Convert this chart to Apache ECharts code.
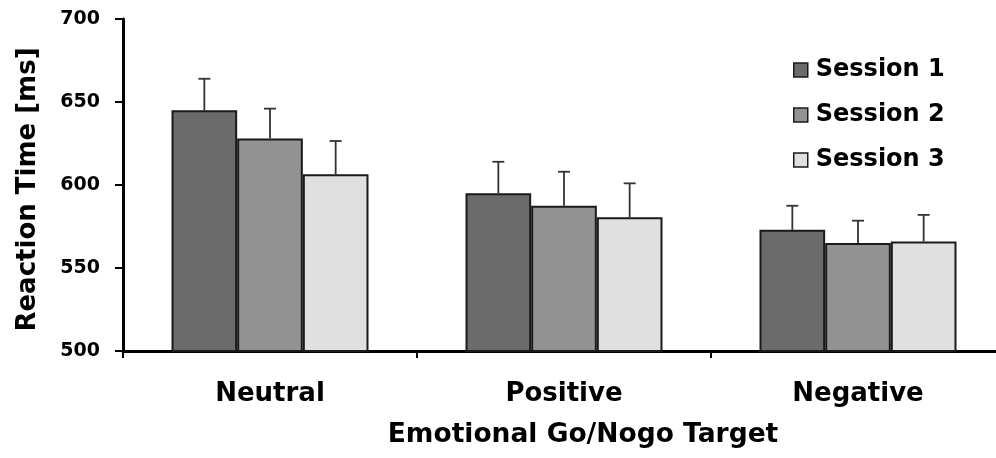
<!DOCTYPE html>
<html>
<head>
<meta charset="utf-8">
<style>
  html, body { margin: 0; padding: 0; background: #ffffff; }
  #chart { width: 996px; height: 458px; }
</style>
<script src="https://cdn.jsdelivr.net/npm/echarts@6/dist/echarts.min.js"></script>
</head>
<body>
<div id="chart"></div>
<script>
const categories = ['Neutral', 'Positive', 'Negative'];
const seriesNames = ['Session 1', 'Session 2', 'Session 3'];
const session1 = [645, 595, 573];
const session2 = [628, 587.5, 565];
const session3 = [606.5, 580.5, 566];
const error1 = [19, 19, 14.5];
const error2 = [18, 20.5, 13.5];
const error3 = [20, 20.5, 16];
const yMin = 500, yMax = 700, yStep = 50;
const xAxisTitle = 'Emotional Go/Nogo Target';
const yAxisTitle = 'Reaction Time [ms]';

const colors = ['#6b6b6b', '#929292', '#e0e0e0'];
const means = [session1, session2, session3];
const errors = [error1, error2, error3];
const FONT = 'DejaVu Sans';
const CAT_GAP = 0.33;

const chart = echarts.init(document.getElementById('chart'), null, { renderer: 'canvas' });

const barSeries = seriesNames.map((name, i) => ({
  name: name,
  type: 'bar',
  data: means[i],
  barGap: '0%',
  barCategoryGap: (CAT_GAP * 100) + '%',
  itemStyle: { color: colors[i], borderColor: '#1a1a1a', borderWidth: 2 },
  emphasis: { disabled: true },
  z: 3
}));

const errorSeries = seriesNames.map((name, i) => ({
  name: name + ' error',
  type: 'custom',
  data: categories.map((c, k) => [k, means[i][k], means[i][k] + errors[i][k]]),
  encode: { x: 0, y: [1, 2] },
  z: 2,
  silent: true,
  renderItem: function (params, api) {
    const cat = api.value(0);
    const bandW = api.size([1, 0])[0];
    const barW = bandW * (1 - CAT_GAP) / 3;
    const base = api.coord([cat, api.value(1)]);
    const top = api.coord([cat, api.value(2)]);
    const x = base[0] + (i - 1) * barW;
    const cap = 6;
    const style = { stroke: '#333333', lineWidth: 1.8, fill: null };
    return {
      type: 'group',
      children: [
        { type: 'line', shape: { x1: x, y1: base[1], x2: x, y2: top[1] }, style: style },
        { type: 'line', shape: { x1: x - cap, y1: top[1], x2: x + cap, y2: top[1] }, style: style }
      ]
    };
  }
}));

const option = {
  animation: false,
  backgroundColor: '#ffffff',
  textStyle: { fontFamily: FONT },
  grid: { left: 123, right: -9, top: 19, bottom: 107, containLabel: false, outerBoundsMode: 'none' },
  title: {
    text: xAxisTitle,
    left: 583,
    top: 422,
    padding: 0,
    textAlign: 'center',
    textStyle: { fontFamily: FONT, fontWeight: 'bold', fontSize: 26.5, color: '#000000' }
  },
  legend: {
    data: seriesNames,
    orient: 'vertical',
    left: 793,
    top: 58,
    padding: 0,
    itemWidth: 14,
    itemHeight: 14,
    itemGap: 21,
    icon: 'rect',
    selectedMode: false,
    textStyle: { fontFamily: FONT, fontWeight: 'bold', fontSize: 24, lineHeight: 24, color: '#000000', padding: [0, 0, 0, 3] },
    itemStyle: { borderColor: '#1a1a1a', borderWidth: 1.5 }
  },
  xAxis: {
    type: 'category',
    data: categories,
    axisLine: { show: true, lineStyle: { color: '#000000', width: 3 } },
    axisTick: { show: true, length: 7, lineStyle: { color: '#000000', width: 2 } },
    axisLabel: { margin: 30, fontFamily: FONT, fontWeight: 'bold', fontSize: 26, color: '#000000' },
    splitLine: { show: false }
  },
  yAxis: {
    type: 'value',
    min: yMin,
    max: yMax,
    interval: yStep,
    name: yAxisTitle,
    nameLocation: 'middle',
    nameRotate: 90,
    nameGap: 82,
    nameTextStyle: { fontFamily: FONT, fontWeight: 'bold', fontSize: 26, color: '#000000', padding: [0, 0, 0, -9] },
    axisLine: { show: true, lineStyle: { color: '#000000', width: 3 } },
    axisTick: { show: true, length: 8, lineStyle: { color: '#000000', width: 2 } },
    axisLabel: { margin: 23, fontFamily: FONT, fontWeight: 'bold', fontSize: 19, color: '#000000' },
    splitLine: { show: false }
  },
  series: errorSeries.concat(barSeries)
};

chart.setOption(option);
</script>
</body>
</html>
